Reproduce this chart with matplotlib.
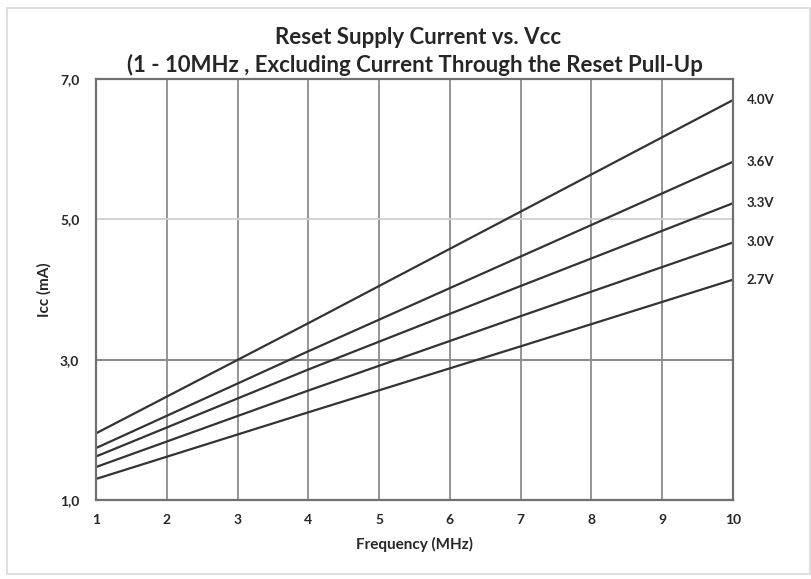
import matplotlib.pyplot as plt
from matplotlib.patches import Rectangle

freq = [1, 4, 7, 10]
vcc_labels = ['4.0V', '3.6V', '3.3V', '3.0V', '2.7V']
icc_40 = [1.95, 3.52, 5.11, 6.70]
icc_36 = [1.74, 3.12, 4.47, 5.82]
icc_33 = [1.62, 2.86, 4.05, 5.23]
icc_30 = [1.47, 2.56, 3.62, 4.67]
icc_27 = [1.30, 2.25, 3.19, 4.14]
series = [icc_40, icc_36, icc_33, icc_30, icc_27]

plt.rcParams['font.family'] = ['Lato', 'DejaVu Sans']
plt.rcParams['font.weight'] = 'bold'

fig = plt.figure(figsize=(8.12, 5.79), dpi=100)
ax = fig.add_axes([96 / 812, 1 - 500 / 579, (733 - 96) / 812, (500 - 79) / 579])

# light frame round the whole chart
fig.patches.append(Rectangle((7 / 812, 5 / 579), 803 / 812, 566 / 579, transform=fig.transFigure,
                             fill=False, edgecolor='#d9d9d9', linewidth=1.2))

for x in range(2, 10):
    ax.axvline(x, color='#8c8c8c', linewidth=1.3, zorder=1)
ax.axhline(3, color='#8c8c8c', linewidth=1.5, zorder=1)
ax.axhline(5, color='#cfcfcf', linewidth=1.3, zorder=1)

for vals, lab in zip(series, vcc_labels):
    ax.plot(freq, vals, color='#333333', linewidth=1.6, zorder=2)
    ax.annotate(lab, xy=(10, vals[-1]), xytext=(10, 0), textcoords='offset points',
                va='center', ha='left', fontsize=9.5, fontweight='bold', color='#262626',
                annotation_clip=False)

ax.set_xlim(1, 10)
ax.set_ylim(1, 7)
ax.set_xticks(range(1, 11))
ax.set_yticks([1, 3, 5, 7])
ax.set_yticklabels(['1,0', '3,0', '5,0', '7,0'])
ax.tick_params(length=0, labelsize=10, colors='#262626')
ax.tick_params(axis='x', pad=10)
ax.tick_params(axis='y', pad=12)
for lbl in ax.get_xticklabels() + ax.get_yticklabels():
    lbl.set_fontweight('bold')
for s in ax.spines.values():
    s.set_color('#707070')
    s.set_linewidth(1.6)

ax.set_xlabel('Frequency (MHz)', fontsize=11, fontweight='bold', color='#262626', labelpad=8)
ax.set_ylabel('Icc (mA)', fontsize=11, fontweight='bold', color='#262626', labelpad=6)
fig.text(418 / 812, 1 - 37 / 579, 'Reset Supply Current vs. Vcc', ha='center', va='center',
         fontsize=16, fontweight='bold', color='#262626')
fig.text(415 / 812, 1 - 65 / 579, '(1 - 10MHz , Excluding Current Through the Reset Pull-Up',
         ha='center', va='center', fontsize=16, fontweight='bold', color='#262626')

fig.savefig('out.png', dpi=100)
